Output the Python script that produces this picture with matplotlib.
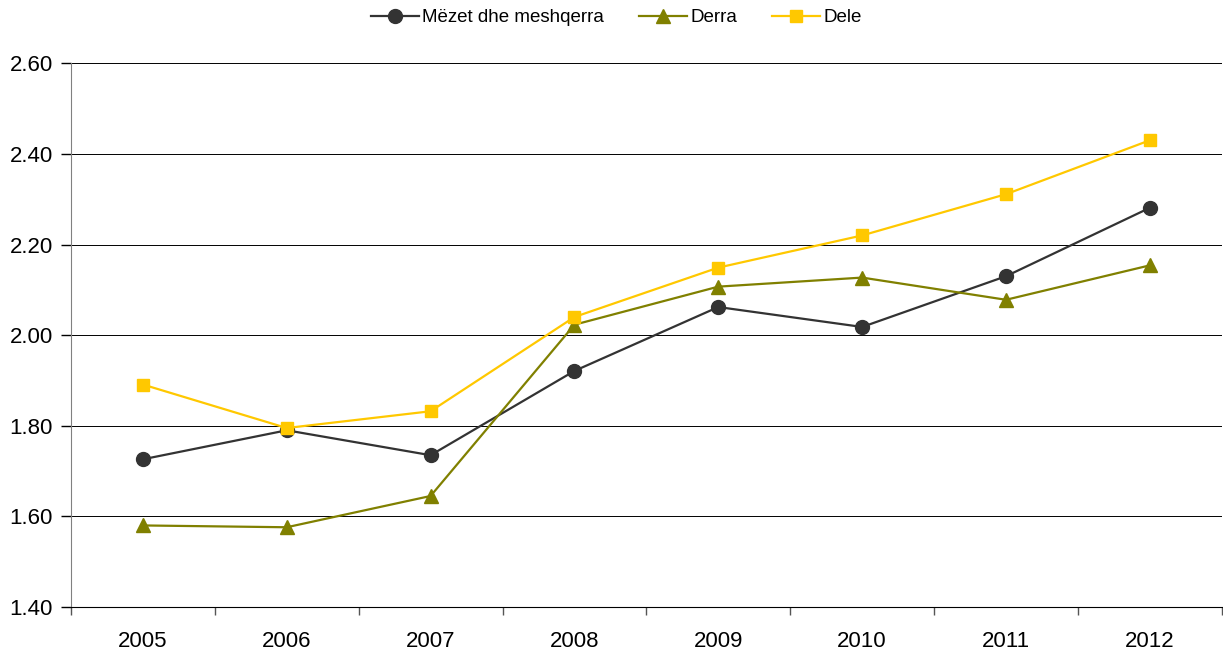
import matplotlib.pyplot as plt
import numpy as np

plt.rcParams['font.family'] = ['Liberation Sans', 'DejaVu Sans']

years = ['2005', '2006', '2007', '2008', '2009', '2010', '2011', '2012']
mezet = [1.726, 1.790, 1.735, 1.921, 2.062, 2.018, 2.130, 2.281]
derra = [1.580, 1.576, 1.645, 2.023, 2.107, 2.127, 2.078, 2.154]
dele = [1.891, 1.795, 1.832, 2.040, 2.149, 2.220, 2.311, 2.430]

fig = plt.figure(figsize=(12.23, 6.52), dpi=100)
ax = fig.add_axes([0.058, 0.069, 0.941, 0.834])

x = np.arange(len(years))
ax.plot(x, mezet, color='#333333', marker='o', markersize=10, linewidth=1.6,
        label='Mëzet dhe meshqerra', zorder=3)
ax.plot(x, derra, color='#808000', marker='^', markersize=10, linewidth=1.6,
        label='Derra', zorder=3)
ax.plot(x, dele, color='#FFC800', marker='s', markersize=9, linewidth=1.6,
        label='Dele', zorder=3)

ax.set_xlim(-0.5, len(years) - 0.5)
ax.set_ylim(1.40, 2.60)
yt = np.arange(1.40, 2.61, 0.20)
ax.set_yticks(yt)
ax.set_yticklabels(['%.2f' % v for v in yt])
ax.yaxis.grid(True, color='black', linewidth=0.7)
ax.set_axisbelow(True)

ax.set_xticks(x)
ax.set_xticklabels(years)
ax.set_xticks(np.arange(-0.5, len(years)), minor=True)
ax.tick_params(axis='x', which='major', length=0, pad=17, labelsize=16)
ax.tick_params(axis='x', which='minor', length=6, width=1, color='#555555')
ax.tick_params(axis='y', length=7, width=1, color='black', labelsize=16, pad=6)

for s in ['top', 'right']:
    ax.spines[s].set_visible(False)
ax.spines['left'].set_color('#808080')
ax.spines['bottom'].set_color('black')

fig.legend(*ax.get_legend_handles_labels(), loc='upper center',
           bbox_to_anchor=(0.504, 1.012), ncol=3, frameon=False,
           fontsize=13.5, handlelength=2.55, columnspacing=1.85, handletextpad=0.2)

fig.savefig('out.png', dpi=100)
